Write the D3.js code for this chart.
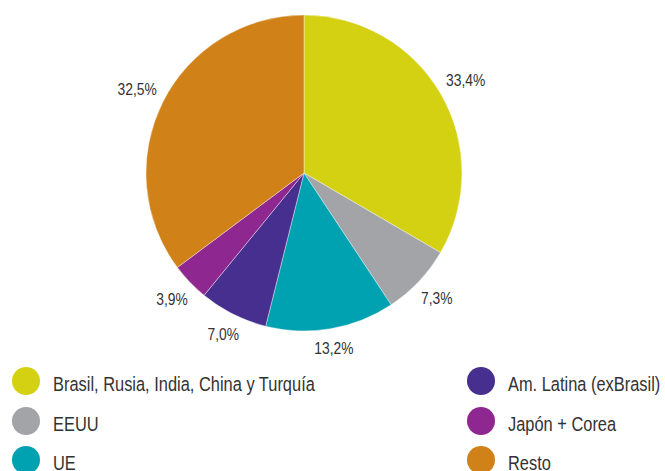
<!DOCTYPE html>
<html>
<head>
<meta charset="utf-8">
<script src="https://cdn.jsdelivr.net/npm/d3@7"></script>
<style>
  html, body { margin: 0; padding: 0; background: #fff; }
  svg text { font-family: "Liberation Sans", Arial, sans-serif; fill: #333; }
</style>
</head>
<body>
<svg id="chart" width="665" height="471"></svg>
<script>
// Data
const categories = ["Brasil, Rusia, India, China y Turquía", "EEUU", "UE", "Am. Latina (exBrasil)", "Japón + Corea", "Resto"];
const values = [33.4, 7.3, 13.2, 7.0, 3.9, 35.2];          // slice sizes as drawn
const labels = ["33,4%", "7,3%", "13,2%", "7,0%", "3,9%", "32,5%"]; // printed labels
const colors = ["#d4d113", "#a3a4a8", "#00a1b0", "#472f8f", "#8e2790", "#d08117"];

const svg = d3.select("#chart");
const cx = 304, cy = 173, r = 158;
const narrow = 0.84;   // condensed look

const pie = d3.pie().sort(null).value(d => d)(values);
const arc = d3.arc().innerRadius(0).outerRadius(r);

const g = svg.append("g").attr("transform", `translate(${cx},${cy})`);
g.selectAll("path").data(pie).enter().append("path")
  .attr("d", arc)
  .attr("fill", (d, i) => colors[i])
  .attr("stroke", "#fff").attr("stroke-width", 0.4);

// labels placed just outside the pie (box touching a circle of radius R)
const R = 165, boxH = 18;
g.selectAll("g.lbl").data(pie).enter().append("g")
  .attr("class", "lbl")
  .each(function (d, i) {
    const t = d3.select(this).append("text")
      .attr("text-anchor", "middle")
      .attr("y", 6)
      .style("font-size", "16.5px")
      .text(labels[i]);
    const w = t.node().getComputedTextLength() * narrow;
    const a = (d.startAngle + d.endAngle) / 2;
    const ux = Math.sin(a), uy = -Math.cos(a);
    const dist = R + Math.abs(ux) * w / 2 + Math.abs(uy) * boxH / 2;
    d3.select(this).attr("transform", `translate(${ux * dist},${uy * dist}) scale(${narrow},1)`);
  });

// Legend
const col = i => i < 3 ? 0 : 1;
const colX = [26, 481];
const rowY = [381, 421, 460];
const leg = svg.selectAll("g.leg").data(categories).enter().append("g")
  .attr("class", "leg")
  .attr("transform", (d, i) => `translate(${colX[col(i)]},${rowY[i % 3]})`);
leg.append("circle").attr("r", 14).attr("fill", (d, i) => colors[i]);
const lt = leg.append("text")
  .attr("y", 9.5)
  .style("font-size", "19.5px").text(d => d);
// horizontal condensing so the longest entry spans like the reference
const longW = lt.nodes()[0].getComputedTextLength();
const k = 262 / longW;
lt.attr("transform", `translate(27,0) scale(${k},1)`);
</script>
</body>
</html>
